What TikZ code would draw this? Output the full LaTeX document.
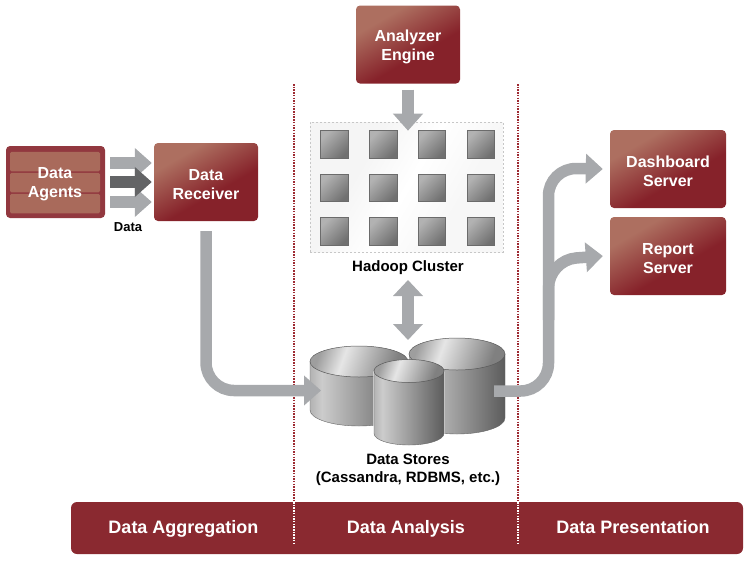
\documentclass[tikz,border=0pt]{standalone}
\usepackage{fontspec}
\setmainfont{Liberation Sans}
\usetikzlibrary{arrows.meta,calc}
\definecolor{boxlight}{HTML}{AD6F60}
\definecolor{boxdark}{HTML}{86222A}
\definecolor{fatgray}{HTML}{A7A9AC}
\definecolor{fatdark}{HTML}{636466}
\definecolor{rowfill}{HTML}{A96A5B}
\definecolor{sepred}{HTML}{9E2A32}
\pgfdeclarehorizontalshading{boxshade}{100bp}{color(0bp)=(boxlight); color(30bp)=(boxlight); color(58bp)=(boxdark); color(100bp)=(boxdark)}
\pgfdeclarehorizontalshading{cylside}{100bp}{color(0bp)=(black!30); color(25bp)=(black!30); color(31bp)=(black!20); color(75bp)=(black!64); color(100bp)=(black!64)}
\pgfdeclarehorizontalshading{cyltop}{100bp}{color(0bp)=(black!38); color(25bp)=(black!38); color(40bp)=(black!10); color(72bp)=(black!50); color(100bp)=(black!50)}
\pgfdeclarehorizontalshading{sqshade}{100bp}{color(0bp)=(black!30); color(25bp)=(black!30); color(75bp)=(black!56); color(100bp)=(black!56)}
\pgfdeclarehorizontalshading{clshade}{100bp}{color(0bp)=(black!4); color(35bp)=(black!4); color(50bp)=(white); color(65bp)=(black!3); color(100bp)=(black!3)}
\newcommand{\ts}{\rule{0pt}{16pt}}
\tikzset{
  x=1pt,y=-1pt,
  box/.style={rounded corners=4pt,shading=boxshade,shading angle=-60,draw=none,inner sep=0pt,
    minimum width=#1,text=white,align=center,font=\fontsize{16}{19}\selectfont\bfseries},
  fat/.style={draw=fatgray,line width=11.5pt,rounded corners=28pt,-{Triangle[length=17pt,width=29pt,fill=fatgray]}},
  fatdk/.style={fat,draw=fatdark,-{Triangle[length=17pt,width=29pt,fill=fatdark]}},
  twofat/.style={draw=fatgray,line width=11.5pt,{Triangle[length=16pt,width=29pt,fill=fatgray]}-{Triangle[length=16pt,width=29pt,fill=fatgray]}},
  lab/.style={align=center,inner sep=0pt,font=\fontsize{15}{18.5}\selectfont\bfseries},
  sep/.style={draw=sepred,line width=2pt,dash pattern=on 1.5pt off 1.2pt},
  sepw/.style={draw=white,line width=2pt,dash pattern=on 1.5pt off 1.2pt},
  sq/.style={minimum size=27.5pt,inner sep=0pt,draw=black!58,line width=.6pt,shading=sqshade,shading angle=-45},
  row/.style={rounded corners=1.5pt,fill=rowfill,minimum width=90pt,minimum height=19.5pt,inner sep=0pt},
  cyledge/.style={draw=black!60,line width=.4pt},
  cyltopstyle/.style={line width=.5pt,shading=cyltop,draw=black!65,shading angle=-20},
}
\begin{document}
\begin{tikzpicture}
\useasboundingbox (0,0) rectangle (751,560);
% Separators
\coordinate (s1a) at (294,84); \coordinate (s1b) at (294,502); \coordinate (s1c) at (294,543);
\coordinate (s2a) at (518,84); \coordinate (s2b) at (518,502); \coordinate (s2c) at (518,543);
\draw[sep] (s1a) -- (s1b);
\draw[sep] (s2a) -- (s2b);
% Cluster
\node[minimum width=193pt,minimum height=130pt,inner sep=0pt,draw=black!22,dash pattern=on 2pt off 2pt,line width=.6pt,shading=clshade,shading angle=-30] (cluster) at (406.5,187) {};
\foreach \nm/\xx in {a/334.5,b/383.5,c/432,d/481}{
  \foreach \r/\yy in {1/144.5,2/188,3/231.5}{
    \node[sq] (sq\nm\r) at (\xx,\yy) {};
  }
}
\node[lab] (hlabel) at (408,268) {Hadoop Cluster};
% Data stores
\coordinate (left) at (359,361.5);
\coordinate (right) at (457,354);
\coordinate (small) at (409,371);
\shade[shading=cylside] (310,361.5) -- (310,410) arc[start angle=180,end angle=0,x radius=49,y radius=16] -- (408,361.5) -- cycle;
\draw[cyltopstyle] (left) ellipse[x radius=49,y radius=15.5];
\draw[cyledge] (310,361.5) -- (310,410) arc[start angle=180,end angle=0,x radius=49,y radius=16];
\shade[shading=cylside] (409,354) -- (409,418) arc[start angle=180,end angle=0,x radius=48,y radius=16] -- (505,418) -- (505,354) -- cycle;
\draw[cyltopstyle] (right) ellipse[x radius=48,y radius=16];
\draw[cyledge] (505,354) -- (505,418) arc[start angle=0,end angle=180,x radius=48,y radius=16];
\draw[white,line width=1.4pt] (374,371) -- (374,433.5) arc[start angle=180,end angle=0,x radius=35,y radius=11.5] -- (444,371);
\shade[shading=cylside] (374,371) -- (374,433.5) arc[start angle=180,end angle=0,x radius=35,y radius=11.5] -- (444,371) -- cycle;
\draw[cyltopstyle] (small) ellipse[x radius=35,y radius=11.5];
\draw[cyledge] (374,371) -- (374,433.5) arc[start angle=180,end angle=0,x radius=35,y radius=11.5] -- (444,371);
\node[lab] (slabel) at (408,470) {Data Stores\\(Cassandra, RDBMS, etc.)};
% Boxes
\node[rounded corners=4pt,fill=boxdark!90!white,minimum width=99pt,minimum height=72pt,inner sep=0pt] (agents) at (55.5,182) {};
\node[row] (r1) at (55,161.5) {};
\node[row] (r2) at (55,182.5) {};
\node[row] (r3) at (55,203.5) {};
\node[text=white,align=center,font=\fontsize{16}{19}\selectfont\bfseries] (agentsT) at (55,182) {\ts Data\\Agents};
\node[box=104pt,minimum height=78pt] (receiver) at (206,182) {\ts Data\\Receiver};
\node[box=104pt,minimum height=78pt] (analyzer) at (408,44.5) {\ts Analyzer\\Engine};
\node[box=116pt,minimum height=78pt] (dash) at (668,169) {\ts Dashboard\\Server};
\node[box=116pt,minimum height=78pt] (report) at (668,256) {\ts Report\\Server};
% Connectors
\coordinate (dstin) at (321,390.5);
\coordinate (dstout) at (494,391);
\draw[fat] ([xshift=5pt,yshift=19pt]agents.east) -- ([xshift=-2pt,yshift=19pt]receiver.west);
\draw[fat] ([xshift=5pt,yshift=-20pt]agents.east) -- ([xshift=-2pt,yshift=-20pt]receiver.west);
\draw[fatdk] ([xshift=5pt]agents.east) -- ([xshift=-2pt]receiver.west);
\node[inner sep=0pt,font=\fontsize{13}{15}\selectfont\bfseries] (dlabel) at (128,227) {Data};
\draw[fat] ([yshift=-10pt]receiver.south) -- (receiver.south |- dstin) -- (dstin);
\draw[fat] ([yshift=-6pt]analyzer.south) -- ([yshift=-9pt]cluster.north -| analyzer.south);
\draw[twofat] (408,280) -- (408,340);
\draw[fat] (dstout) -| (548.5,168) -- ([xshift=-7pt]dash.west);
\draw[fat] (548.5,320) -- (548.5,260) -- ([xshift=-7pt]report.west);
% Bar
\node[rounded corners=6pt,fill=boxdark!97!white,minimum width=672pt,minimum height=52pt,inner sep=0pt] (bar) at (407,528) {};
\draw[sepw] (s1b) -- (s1c);
\draw[sepw] (s2b) -- (s2c);
\foreach \nm/\xx/\tt in {ba/183.5/Data Aggregation,bb/406/Data Analysis,bc/633/Data Presentation}{
  \node[text=white,inner sep=0pt,anchor=base,font=\fontsize{18}{20}\selectfont\bfseries] (\nm) at (\xx,533) {\tt};
}
\end{tikzpicture}
\end{document}
